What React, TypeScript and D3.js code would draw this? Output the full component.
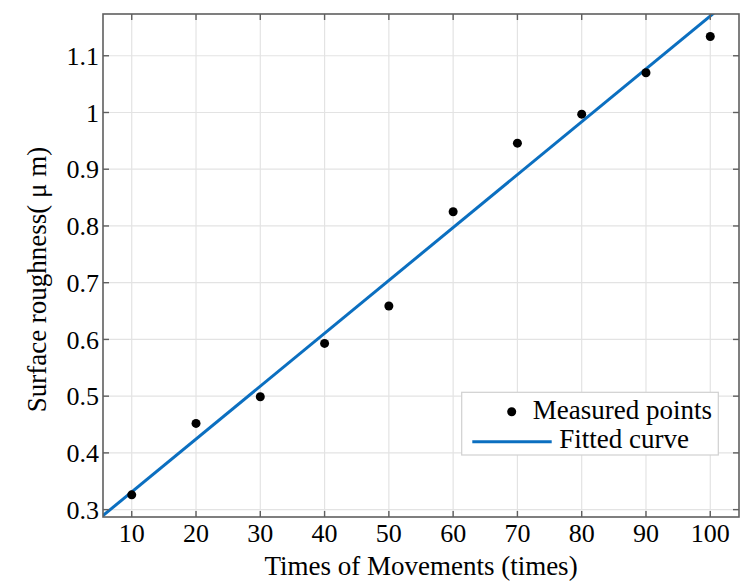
import React from 'react';
import * as d3 from 'd3';

// measured surface roughness vs. number of movements
const movements = [10, 20, 30, 40, 50, 60, 70, 80, 90, 100];
const roughness = [0.326, 0.452, 0.499, 0.593, 0.659, 0.825, 0.946, 0.997, 1.07, 1.134];

// fitted line y = a + b * x
const fitIntercept = 0.238;
const fitSlope = 0.00932;

const xTicks = [10, 20, 30, 40, 50, 60, 70, 80, 90, 100];
const yTicks = [0.3, 0.4, 0.5, 0.6, 0.7, 0.8, 0.9, 1, 1.1];

const W = 751;
const H = 583;
const margin = { top: 14, right: 12, bottom: 66, left: 103 };
const FONT = '"Liberation Serif", "Times New Roman", serif';

export default function App() {
  const innerW = W - margin.left - margin.right;
  const innerH = H - margin.top - margin.bottom;

  const x = d3.scaleLinear().domain([5.53, 104.47]).range([0, innerW]);
  const y = d3.scaleLinear().domain([0.287, 1.1736]).range([innerH, 0]);

  const fitX = [0, 110];
  const line = d3
    .line<number>()
    .x(d => x(d))
    .y(d => y(fitIntercept + fitSlope * d));

  const axisColor = '#5f5f5f';
  const gridColor = '#e3e3e3';
  const blue = '#0b6fc0';
  const tickLen = 6;
  const txt = { fontFamily: FONT, fill: '#000' };

  return (
    <svg
      width={W}
      height={H}
      style={{ position: 'absolute', left: 0, top: 0, background: '#fff' }}
    >
      <defs>
        <clipPath id="plot">
          <rect x={0} y={0} width={innerW} height={innerH} />
        </clipPath>
      </defs>
      <g transform={`translate(${margin.left},${margin.top})`}>
        {/* grid */}
        {xTicks.map(t => (
          <line key={'gx' + t} x1={x(t)} x2={x(t)} y1={0} y2={innerH} stroke={gridColor} strokeWidth={1.2} />
        ))}
        {yTicks.map(t => (
          <line key={'gy' + t} x1={0} x2={innerW} y1={y(t)} y2={y(t)} stroke={gridColor} strokeWidth={1.2} />
        ))}

        {/* fitted curve */}
        <path d={line(fitX) || ''} fill="none" stroke={blue} strokeWidth={3} clipPath="url(#plot)" />

        {/* measured points */}
        {movements.map((m, i) => (
          <circle key={'p' + m} cx={x(m)} cy={y(roughness[i])} r={4.5} fill="#000" />
        ))}

        {/* box and inward ticks */}
        <rect x={0} y={0} width={innerW} height={innerH} fill="none" stroke={axisColor} strokeWidth={1.6} />
        {xTicks.map(t => (
          <g key={'tx' + t} stroke={axisColor} strokeWidth={1.4}>
            <line x1={x(t)} x2={x(t)} y1={innerH} y2={innerH - tickLen} />
            <line x1={x(t)} x2={x(t)} y1={0} y2={tickLen} />
          </g>
        ))}
        {yTicks.map(t => (
          <g key={'ty' + t} stroke={axisColor} strokeWidth={1.4}>
            <line x1={0} x2={tickLen} y1={y(t)} y2={y(t)} />
            <line x1={innerW} x2={innerW - tickLen} y1={y(t)} y2={y(t)} />
          </g>
        ))}

        {/* tick labels */}
        {xTicks.map(t => (
          <text key={'lx' + t} x={x(t)} y={innerH + 25} fontSize={26} textAnchor="middle" style={txt}>
            {t}
          </text>
        ))}
        {yTicks.map(t => (
          <text key={'ly' + t} x={-4} y={y(t)} dy="0.35em" fontSize={26} textAnchor="end" style={txt}>
            {String(t)}
          </text>
        ))}

        {/* axis titles */}
        <text x={innerW / 2} y={innerH + 58} fontSize={27} textAnchor="middle" style={txt}>
          Times of Movements (times)
        </text>
        <text
          transform={`translate(${-57},${innerH / 2 + 14}) rotate(-90)`}
          fontSize={27}
          textAnchor="middle"
          style={txt}
        >
          Surface roughness( μ m)
        </text>

        {/* legend */}
        <g transform={`translate(${461.7 - margin.left},${392.3 - margin.top})`}>
          <rect x={0} y={0} width={256.6} height={62.7} fill="#fff" stroke="#d0d0d0" strokeWidth={1.2} />
          <circle cx={50} cy={19.4} r={4.5} fill="#000" />
          <text x={71} y={27} fontSize={27} style={txt}>
            Measured points
          </text>
          <line x1={10.6} x2={90} y1={49.4} y2={49.4} stroke={blue} strokeWidth={3} />
          <text x={97.6} y={56} fontSize={27} style={txt}>
            Fitted curve
          </text>
        </g>
      </g>
    </svg>
  );
}
